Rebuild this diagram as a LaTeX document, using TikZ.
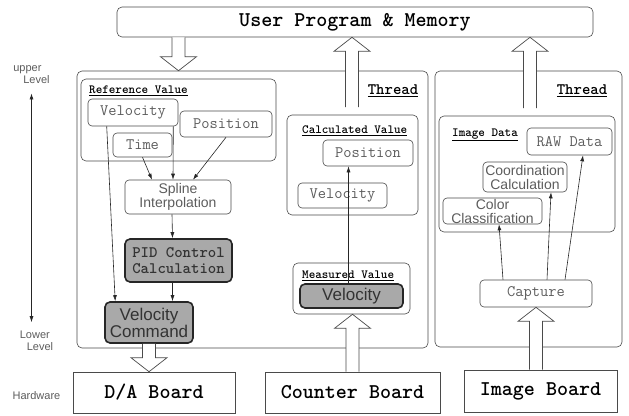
\documentclass[tikz,border=0pt]{standalone}
\usepackage{fontspec}
\setmainfont{Liberation Sans}
\usepackage{xcolor}
\usetikzlibrary{arrows.meta,positioning,calc}
\definecolor{linegray}{HTML}{4A4A4A}
\definecolor{txtgray}{HTML}{5C5C5C}
\definecolor{shade}{HTML}{A9A9A9}

\newcommand{\fatarrow}[2]{%
  \draw[fatar] let \p1=(#1), \p2=(#2), \n1={\y2-14*sign(\y2-\y1)} in
    (\x1-6.5pt,\y1) -- (\x1-6.5pt,\n1) -- (\x1-18pt,\n1) -- (\x1,\y2)
    -- (\x1+18pt,\n1) -- (\x1+6.5pt,\n1) -- (\x1+6.5pt,\y1);}

\begin{document}
\begin{tikzpicture}[x=1pt,y=-1pt,
  area/.style={draw=linegray,rounded corners=5pt,line width=0.6pt},
  sz/.style 2 args={minimum width=#1pt,minimum height=#2pt,inner sep=0pt},
  item/.style={draw=linegray,rounded corners=4pt,line width=0.6pt,text=txtgray,
               font=\ttfamily\fontsize{16}{16}\selectfont},
  sitem/.style={item,font=\fontsize{14}{14}\selectfont,align=center},
  dark/.style={fill=shade,draw=black!85,line width=1.6pt,rounded corners=5pt,
               text=black!80,align=center},
  board/.style={draw=linegray,line width=0.6pt,
                font=\ttfamily\bfseries\fontsize{21}{21}\selectfont},
  tag/.style={anchor=west,inner sep=0pt,font=\ttfamily\bfseries\fontsize{12.5}{12.5}\selectfont},
  thr/.style={inner sep=0pt,font=\ttfamily\bfseries\fontsize{16}{16}\selectfont},
  side/.style={align=left,inner sep=0pt,text=txtgray,font=\fontsize{11}{11.5}\selectfont},
  ar/.style={-{Latex[length=6pt,width=4pt]},draw=black!85,line width=0.6pt},
  fatar/.style={draw=linegray,fill=white,line width=0.7pt}]
\useasboundingbox (0,0) rectangle (629,415);

\node[area,sz={476}{30},font=\ttfamily\bfseries\fontsize{21}{21}\selectfont]
  (user) at (355,22) {User Program \& Memory};

\node[area,sz={351}{277}] (thread1) at (252.5,209.5) {};
\node[area,sz={187}{276}] (thread2) at (528.5,209) {};
\node[thr] (thr1) at (393,91) {\underline{Thread}};
\node[thr] (thr2) at (582,91) {\underline{Thread}};

\node[area,sz={195}{82}] (refbox) at (178.5,120) {};
\node[tag] (reflbl) at (89,91) {\underline{Reference Value}};
\node[item,sz={90}{27}] (refvel) at (133,112.5) {Velocity};
\node[item,sz={92}{26}] (refpos) at (226,124) {Position};
\node[item,sz={59}{24}] (reftime) at (142.5,145) {Time};
\node[sitem,sz={106}{34}] (spline) at (178,197) {Spline\\Interpolation};
\node[dark,sz={107}{43},font=\ttfamily\bfseries\fontsize{16}{16}\selectfont]
  (pid) at (178.5,260.5) {PID Control\\Calculation};
\node[dark,sz={88}{41},font=\fontsize{17}{15}\selectfont]
  (velcmd) at (149,322.5) {Velocity\\Command};

\node[area,sz={131}{100}] (calcbox) at (352.5,165) {};
\node[tag] (calclbl) at (302,131) {\underline{Calculated Value}};
\node[item,sz={90}{26}] (calcpos) at (368,153) {Position};
\node[item,sz={89}{25}] (calcvel) at (342.5,195.5) {Velocity};
\node[area,sz={117}{51}] (measbox) at (351.5,288.5) {};
\node[tag] (measlbl) at (302,276) {\underline{Measured Value}};
\node[dark,sz={103}{24},font=\fontsize{17}{14}\selectfont]
  (measvel) at (351.5,296) {Velocity};

\node[area,sz={176}{116}] (imgbox) at (527,174) {};
\node[tag] (imglbl) at (452,135) {\underline{Image Data}};
\node[item,sz={85}{27}] (raw) at (569.5,141.5) {RAW Data};
\node[sitem,sz={84}{30}] (coord) at (525,177) {Coordination\\Calculation};
\node[sitem,sz={99}{26}] (color) at (492.5,211) {Color\\Classification};
\node[item,sz={112}{27}] (capture) at (536,293.5) {Capture};

\node[board,sz={162}{41}] (da) at (154,392.5) {D/A Board};
\node[board,sz={175}{41}] (counter) at (352.5,392.5) {Counter Board};
\node[board,sz={153}{42}] (imgboard) at (540.5,391) {Image Board};

\node[side] (uplbl) at (31.5,74.5) {upper\\\hspace*{10pt}Level};
\node[side] (lowlbl) at (36.5,341) {Lower\\\hspace*{7pt}Level};
\node[side] (hwlbl) at (36.5,396) {Hardware};
\draw[{Latex[length=6pt,width=4pt]}-{Latex[length=6pt,width=4pt]},draw=black!85,
  line width=0.6pt,shorten <=10pt,shorten >=9pt]
  (uplbl.south) -- (uplbl.south |- lowlbl.north);

\coordinate (upc) at (352,107);
\coordinate (upi) at (530,108);
\fatarrow{user.south -| refbox.north}{thread1.north -| refbox.north}
\fatarrow{upc}{user.south -| upc}
\fatarrow{upi}{user.south -| upi}
\fatarrow{velcmd.south}{da.north -| velcmd.south}
\fatarrow{counter.north}{measbox.south -| counter.north}
\fatarrow{capture.south |- imgboard.north}{capture.south}

\draw[ar] (reftime.south) -- ([xshift=-26pt]spline.north);
\draw[ar] ([xshift=-5pt]refvel.south east) -- ([xshift=-5pt]spline.north);
\draw[ar] (refpos.south) -- ([xshift=15pt]spline.north);
\draw[ar] ([xshift=19pt]refvel.south west) -- ([xshift=11pt]velcmd.north west);
\draw[ar] ([xshift=-6pt]spline.south) -- ([xshift=-6pt]pid.north);
\draw[ar] ([xshift=-6pt]pid.south) -- ([xshift=-6pt]pid.south |- velcmd.north);
\draw[ar] ([xshift=-3pt]measvel.north) -- ([xshift=-3pt]measvel.north |- calcpos.south);
\draw[ar] ([xshift=-33pt]capture.north) -- ([xshift=6.5pt]color.south);
\draw[ar] ([xshift=11pt]capture.north) -- ([xshift=26pt]coord.south);
\draw[ar] ([xshift=29pt]capture.north) -- ([xshift=13.5pt]raw.south);
\end{tikzpicture}
\end{document}
